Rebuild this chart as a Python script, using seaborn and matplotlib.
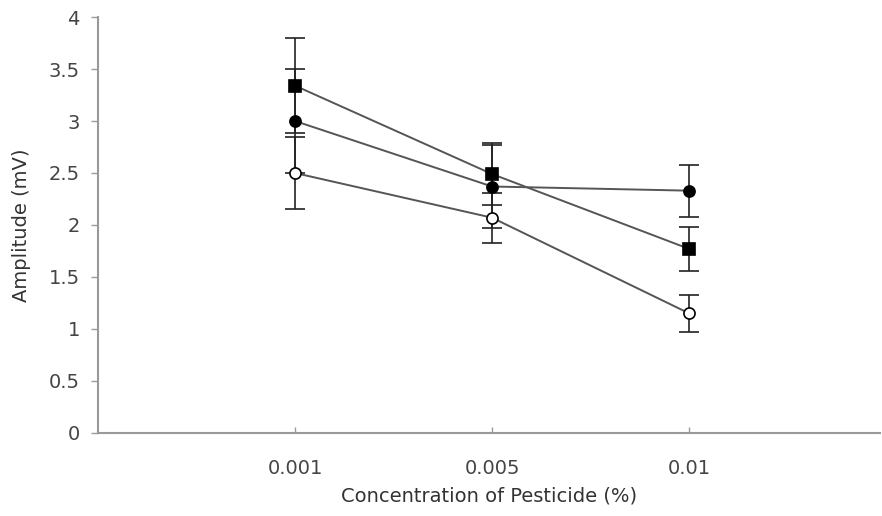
import matplotlib
matplotlib.use("Agg")
import matplotlib.pyplot as plt
import seaborn as sns
import pandas as pd

concentrations = ["0.001", "0.005", "0.01"]
series_names = ["square", "circle", "open"]
square_vals = [3.34, 2.49, 1.77]
square_err = [0.46, 0.30, 0.21]
circle_vals = [3.00, 2.37, 2.33]
circle_err = [0.50, 0.40, 0.25]
open_vals = [2.50, 2.07, 1.15]
open_err = [0.35, 0.24, 0.18]
y_ticks = [0, 0.5, 1, 1.5, 2, 2.5, 3, 3.5, 4]
y_tick_labels = ["0", "0.5", "1", "1.5", "2", "2.5", "3", "3.5", "4"]

sns.set_theme(style="white")
plt.rcParams["font.family"] = ["DejaVu Sans"]

fig = plt.figure(figsize=(8.82, 5.16), dpi=100)
ax = fig.add_axes([0.111, 0.161, 0.887, 0.806])

vals = [square_vals, circle_vals, open_vals]
errs = [square_err, circle_err, open_err]
styles = [
    dict(marker="s", mfc="black", mec="black", ms=8),
    dict(marker="o", mfc="black", mec="black", ms=8),
    dict(marker="o", mfc="white", mec="black", ms=8),
]
for name, v, e, st in zip(series_names, vals, errs, styles):
    df = pd.DataFrame({"conc": concentrations, "amp": v})
    sns.lineplot(data=df, x="conc", y="amp", ax=ax, color="#555555", lw=1.4,
                 sort=False, zorder=2)
    ax.errorbar(range(len(concentrations)), v, yerr=e, fmt="none", ecolor="#222222",
                elinewidth=1.2, capsize=7, capthick=1.2, zorder=3)
    ax.plot(range(len(concentrations)), v, linestyle="none", zorder=4,
            markeredgewidth=1.2, **st)

ax.set_xlim(-1.0, 2.97)
ax.set_ylim(0, 4)
ax.set_xticks(range(len(concentrations)))
ax.set_xticklabels(concentrations)
ax.set_yticks(y_ticks)
ax.set_yticklabels(y_tick_labels)

for s in ["top", "right"]:
    ax.spines[s].set_visible(False)
for s in ["left", "bottom"]:
    ax.spines[s].set_color("#999999")
    ax.spines[s].set_linewidth(1.5)

ax.tick_params(axis="y", direction="out", length=5, width=1, color="#999999",
               labelsize=14, labelcolor="#444444", pad=8, left=True)
ax.tick_params(axis="x", direction="in", length=4, width=1, color="#999999",
               labelsize=14, labelcolor="#444444", pad=19, bottom=True)

ax.set_xlabel("Concentration of Pesticide (%)", fontsize=14, color="#333333", labelpad=6)
ax.set_ylabel("Amplitude (mV)", fontsize=14, color="#333333", labelpad=13)

fig.savefig("out.png", dpi=100)
